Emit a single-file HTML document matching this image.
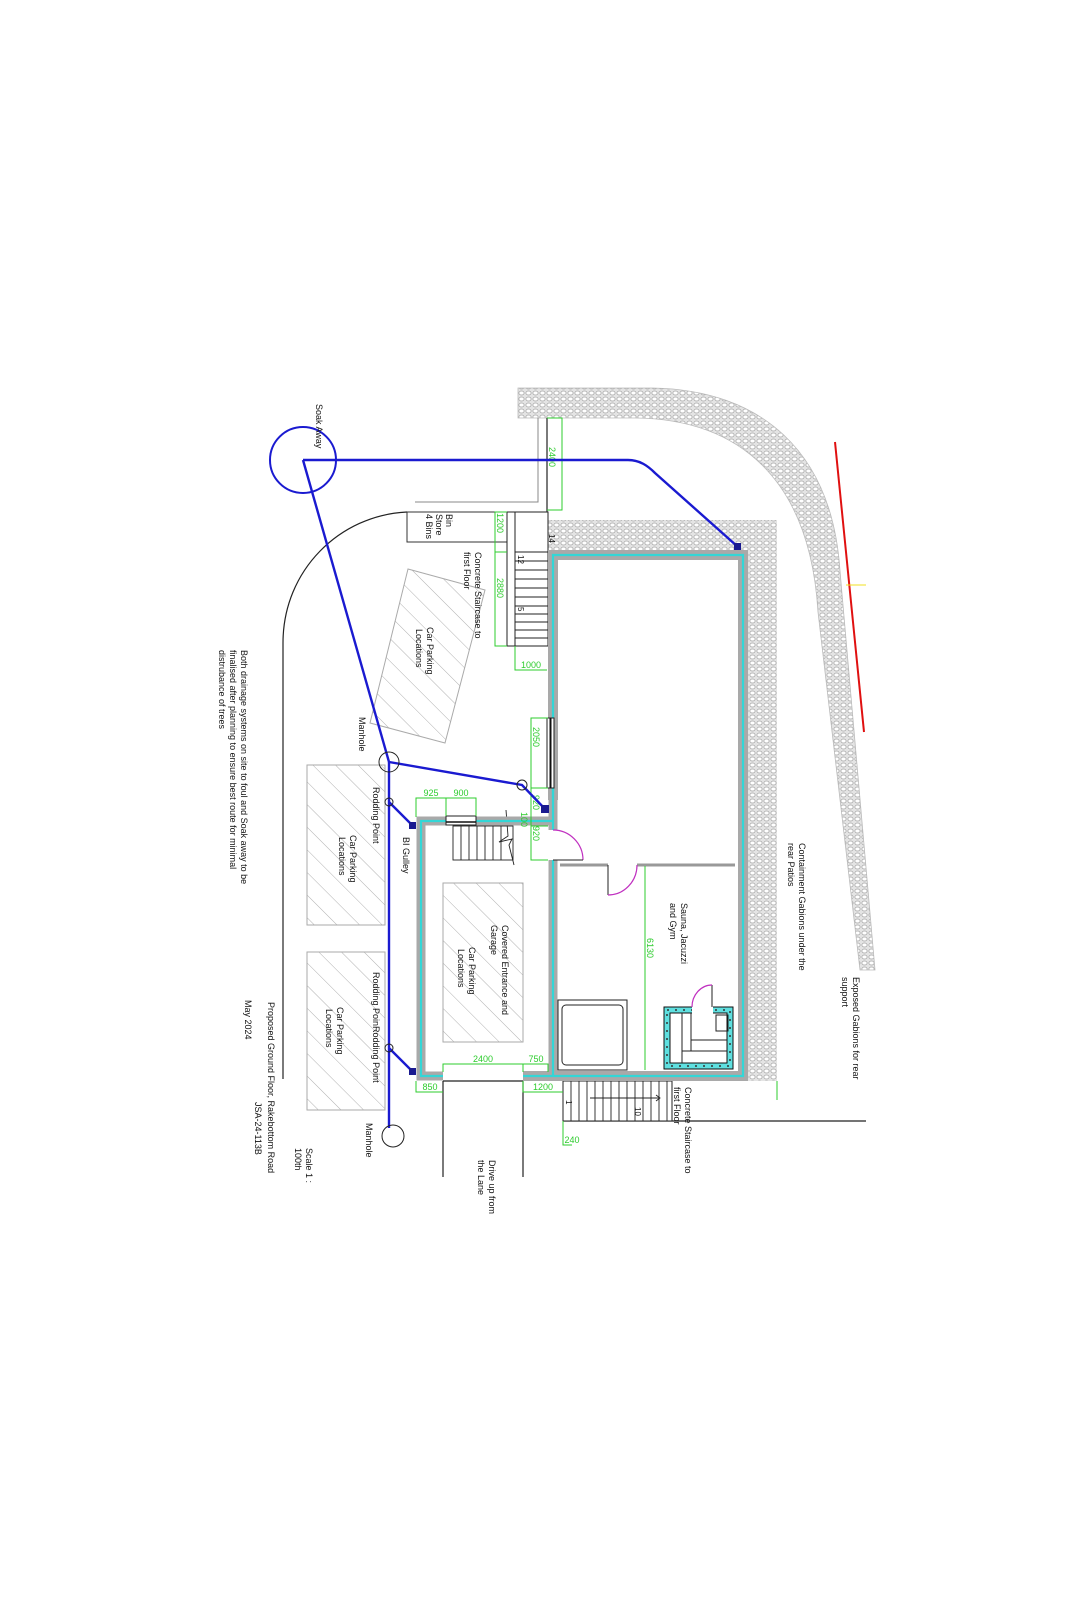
<!DOCTYPE html>
<html><head><meta charset="utf-8"><style>
html,body{margin:0;padding:0;background:#fff;}
svg{display:block;}
text{font-family:"Liberation Sans",sans-serif;font-size:9px;fill:#111;}
.g{fill:#2ecc2e;font-size:9px;}
</style></head><body>
<svg width="1090" height="1600" viewBox="0 0 1090 1600" xmlns="http://www.w3.org/2000/svg">
<defs>
<pattern id="mesh" width="7" height="6" patternUnits="userSpaceOnUse">
<rect width="7" height="6" fill="#e4e4e4"/>
<ellipse cx="3.5" cy="3" rx="2.6" ry="2" fill="#fff" stroke="#a8a8a8" stroke-width="0.8"/>
</pattern>
<pattern id="hatch" width="16" height="16" patternUnits="userSpaceOnUse" patternTransform="rotate(-45)">
<line x1="0" y1="0" x2="0" y2="16" stroke="#b0b0b0" stroke-width="1"/>
</pattern>
</defs>
<rect width="1090" height="1600" fill="#fff"/>

<path d="M518,388 H653 C760,390 832,450 840,571 L875,970 L860,970 L818,612 C810,480 740,418 632,418 H518 Z" fill="url(#mesh)" stroke="#bbb" stroke-width="0.8"/>
<rect x="547" y="520" width="230" height="30" fill="url(#mesh)"/>
<rect x="748" y="520" width="29" height="561" fill="url(#mesh)"/>
<line x1="777" y1="1081" x2="777" y2="1100" stroke="#2ecc2e" stroke-width="1"/>

<line x1="835" y1="442" x2="864" y2="732" stroke="#e01010" stroke-width="2"/>
<line x1="846" y1="585" x2="866" y2="585" stroke="#f0e020" stroke-width="1"/>

<path d="M407,512 C340,515 283,570 283,643 V1079" fill="none" stroke="#222" stroke-width="1.2"/>
<polyline points="415,502 538,502 538,418" fill="none" stroke="#888" stroke-width="1"/>
<line x1="547" y1="418" x2="547" y2="552" stroke="#222" stroke-width="1.2"/>
<line x1="563" y1="1121" x2="866" y2="1121" stroke="#222" stroke-width="1.2"/>
<line x1="443" y1="1081" x2="443" y2="1177" stroke="#222" stroke-width="1.2"/>
<line x1="523" y1="1081" x2="523" y2="1177" stroke="#222" stroke-width="1.2"/>
<line x1="443" y1="1081" x2="523" y2="1081" stroke="#222" stroke-width="1.2"/>

<rect x="407" y="512" width="100" height="30" fill="none" stroke="#333" stroke-width="1"/>

<polygon points="408,569 485,590 445,743 370,723" fill="url(#hatch)" stroke="#aaa" stroke-width="1"/>
<rect x="307" y="765" width="78" height="160" fill="url(#hatch)" stroke="#aaa" stroke-width="1"/>
<rect x="307" y="952" width="78" height="158" fill="url(#hatch)" stroke="#aaa" stroke-width="1"/>
<rect x="443" y="883" width="80" height="159" fill="url(#hatch)" stroke="#aaa" stroke-width="1"/>

<rect x="507" y="512" width="41" height="134" fill="#fff" stroke="#222" stroke-width="1"/>
<line x1="515" y1="512" x2="515" y2="646" stroke="#222" stroke-width="1"/>
<g stroke="#222" stroke-width="0.9">
<line x1="515" y1="552" x2="548" y2="552"/><line x1="515" y1="561" x2="548" y2="561"/>
<line x1="515" y1="570" x2="548" y2="570"/><line x1="515" y1="579" x2="548" y2="579"/>
<line x1="515" y1="588" x2="548" y2="588"/><line x1="515" y1="597" x2="548" y2="597"/>
<line x1="515" y1="606" x2="548" y2="606"/><line x1="515" y1="614" x2="548" y2="614"/>
<line x1="515" y1="622" x2="548" y2="622"/><line x1="515" y1="630" x2="548" y2="630"/>
<line x1="515" y1="638" x2="548" y2="638"/>
</g>

<rect x="563" y="1081" width="109" height="40" fill="#fff" stroke="#222" stroke-width="1"/>
<g stroke="#222" stroke-width="0.9">
<line x1="571" y1="1081" x2="571" y2="1121"/><line x1="579" y1="1081" x2="579" y2="1121"/>
<line x1="587" y1="1081" x2="587" y2="1121"/><line x1="595" y1="1081" x2="595" y2="1121"/>
<line x1="603" y1="1081" x2="603" y2="1121"/><line x1="611" y1="1081" x2="611" y2="1121"/>
<line x1="619" y1="1081" x2="619" y2="1121"/><line x1="627" y1="1081" x2="627" y2="1121"/>
<line x1="635" y1="1081" x2="635" y2="1121"/><line x1="643" y1="1081" x2="643" y2="1121"/>
<line x1="651" y1="1081" x2="651" y2="1121"/><line x1="659" y1="1081" x2="659" y2="1121"/>
<line x1="667" y1="1081" x2="667" y2="1121"/>
<line x1="590" y1="1098" x2="660" y2="1098"/>
<polyline points="656,1095 660,1098 656,1101" fill="none"/>
</g>

<g stroke="#222" stroke-width="0.9" fill="none">
<rect x="453" y="826" width="60" height="34"/>
<line x1="461" y1="826" x2="461" y2="860"/><line x1="469" y1="826" x2="469" y2="860"/>
<line x1="477" y1="826" x2="477" y2="860"/><line x1="485" y1="826" x2="485" y2="860"/>
<line x1="493" y1="826" x2="493" y2="860"/><line x1="501" y1="826" x2="501" y2="860"/>
<polyline points="506,810 508,836 499,842 512,839 509,845 514,865"/>
</g>

<g fill="none" stroke-linejoin="miter">
<path d="M553,800 V555 H743 V1076 H523" stroke="#a9a9a9" stroke-width="10"/>
<path d="M553,830 V800" stroke="#a9a9a9" stroke-width="9"/>
<path d="M553,860 V1076" stroke="#a9a9a9" stroke-width="9"/>
<path d="M557,821 H421 V1076 H443" stroke="#a9a9a9" stroke-width="9"/>
<path d="M553,800 V555 H743 V1076 H523" stroke="#33d6d6" stroke-width="2.2"/>
<path d="M553,787 V830" stroke="#33d6d6" stroke-width="2.2"/>
<path d="M553,860 V1076" stroke="#33d6d6" stroke-width="2.2"/>
<path d="M553,821 H421 V1076 H443" stroke="#33d6d6" stroke-width="2.2"/>
<line x1="560" y1="865" x2="608" y2="865" stroke="#999" stroke-width="3"/>
<line x1="637" y1="865" x2="735" y2="865" stroke="#999" stroke-width="3"/>
</g>
<rect x="547" y="718" width="7" height="70" fill="#fff" stroke="#222" stroke-width="1"/>
<line x1="550.5" y1="718" x2="550.5" y2="788" stroke="#111" stroke-width="2"/>
<rect x="446" y="816" width="30" height="9" fill="#fff" stroke="#222" stroke-width="1"/>
<line x1="446" y1="822" x2="476" y2="822" stroke="#111" stroke-width="1.5"/>

<path d="M553,830 A30,30 0 0 1 583,860" fill="none" stroke="#c030c0" stroke-width="1.2"/>
<line x1="553" y1="860" x2="583" y2="860" stroke="#222" stroke-width="1"/>
<line x1="608" y1="865" x2="608" y2="895" stroke="#222" stroke-width="1"/>
<path d="M608,895 A29,30 0 0 0 637,865" fill="none" stroke="#c030c0" stroke-width="1.2"/>

<rect x="558" y="1000" width="69" height="70" fill="#fff" stroke="#222" stroke-width="1"/>
<rect x="562" y="1005" width="61" height="60" rx="4" fill="none" stroke="#222" stroke-width="1"/>

<!-- sauna -->
<rect x="667" y="1010" width="63" height="56" fill="none" stroke="#5fe0e0" stroke-width="5"/>
<rect x="667" y="1010" width="63" height="56" fill="none" stroke="#333" stroke-width="1.5" stroke-dasharray="2 6"/>
<rect x="664" y="1007" width="69" height="62" fill="none" stroke="#111" stroke-width="1"/>
<rect x="670" y="1013" width="57" height="50" fill="#fff" stroke="#111" stroke-width="1"/>
<rect x="692" y="1005" width="21" height="9" fill="#fff"/>
<g stroke="#222" stroke-width="1" fill="none">
<line x1="682" y1="1013" x2="682" y2="1063"/>
<line x1="691" y1="1013" x2="691" y2="1051"/>
<line x1="691" y1="1040" x2="727" y2="1040"/>
<line x1="682" y1="1051" x2="727" y2="1051"/>
<rect x="716" y="1015" width="12" height="16"/>
<line x1="712" y1="985" x2="712" y2="1007"/>
</g>
<path d="M692,1007 A20,22 0 0 1 712,985" fill="none" stroke="#c030c0" stroke-width="1.2"/>

<g stroke="#2ecc2e" stroke-width="1" fill="none">
<polyline points="547,418 562,418 562,510 547,510"/>
<polyline points="507,512 495,512 495,646 507,646"/><line x1="495" y1="552" x2="507" y2="552"/>
<polyline points="515,646 515,670 547,670"/>
<polyline points="548,718 531,718 531,860 548,860"/>
<line x1="531" y1="788" x2="548" y2="788"/><line x1="531" y1="826" x2="548" y2="826"/>
<polyline points="416,817 416,798 476,798 476,816"/><line x1="446" y1="798" x2="446" y2="816"/>
<polyline points="443,1072 443,1064 548,1064 548,1072"/><line x1="523" y1="1064" x2="523" y2="1072"/>
<polyline points="416,1081 416,1092 443,1092"/>
<polyline points="523,1081 523,1092 563,1092"/>
<polyline points="563,1121 563,1145 572,1145"/>
<line x1="645" y1="866" x2="645" y2="1070"/>
</g>
<text class="g" x="431" y="796" text-anchor="middle">925</text>
<text class="g" x="461" y="796" text-anchor="middle">900</text>
<text class="g" x="483" y="1062" text-anchor="middle">2400</text>
<text class="g" x="536" y="1062" text-anchor="middle">750</text>
<text class="g" x="430" y="1090" text-anchor="middle">850</text>
<text class="g" x="543" y="1090" text-anchor="middle">1200</text>
<text class="g" x="572" y="1143" text-anchor="middle">240</text>
<text class="g" x="531" y="668" text-anchor="middle">1000</text>
<text class="g" transform="translate(549,447) rotate(90)">2400</text>
<text class="g" transform="translate(497,513) rotate(90)">1200</text>
<text class="g" transform="translate(497,578) rotate(90)">2880</text>
<text class="g" transform="translate(533,727) rotate(90)">2050</text>
<text class="g" transform="translate(533,795) rotate(90)">920</text>
<text class="g" transform="translate(521,812) rotate(90)">100</text>
<text class="g" transform="translate(533,826) rotate(90)">920</text>
<text class="g" transform="translate(647,938) rotate(90)">6130</text>

<g stroke="#1a1ad0" stroke-width="2.4" fill="none">
<circle cx="303" cy="460" r="33" stroke-width="2"/>
<path d="M303,460 H628 C640,460 648,466 655,473 L738,547"/>
<line x1="303" y1="460" x2="389" y2="762"/>
<polyline points="389,762 522,785 545,809"/>
<polyline points="389,762 389,1128 Q389,1140 401,1140 H470"/>
<line x1="389" y1="802" x2="413" y2="826"/>
<line x1="389" y1="1048" x2="413" y2="1072"/>
</g>
<g fill="#1a1a90">
<rect x="734" y="543" width="7" height="7"/>
<rect x="541" y="805" width="8" height="8"/>
<rect x="409" y="822" width="7" height="7"/>
<rect x="409" y="1068" width="7" height="7"/>
</g>
<g fill="none" stroke="#222" stroke-width="1">
<circle cx="389" cy="762" r="10"/>
<circle cx="522" cy="785" r="5"/>
<circle cx="389" cy="802" r="4"/>
<circle cx="389" cy="1048" r="4"/>
<circle cx="393" cy="1136" r="11"/>
</g>

<text transform="translate(316,404) rotate(90)">Soak Away</text>
<text transform="translate(446,514) rotate(90)">Bin</text>
<text transform="translate(436,514) rotate(90)">Store</text>
<text transform="translate(426,514) rotate(90)">4 Bins</text>
<text transform="translate(475,552) rotate(90)">Concrete Staircase to</text>
<text transform="translate(464,552) rotate(90)">first Floor</text>
<text transform="translate(427,627) rotate(90)">Car Parking</text>
<text transform="translate(416,629) rotate(90)">Locations</text>
<text transform="translate(359,717) rotate(90)">Manhole</text>
<text transform="translate(373,787) rotate(90)">Rodding Point</text>
<text transform="translate(403,837) rotate(90)">BI Gulley</text>
<text transform="translate(350,835) rotate(90)">Car Parking</text>
<text transform="translate(339,837) rotate(90)">Locations</text>
<text transform="translate(373,972) rotate(90)">Rodding PoinRodding Point</text>
<text transform="translate(337,1007) rotate(90)">Car Parking</text>
<text transform="translate(326,1009) rotate(90)">Locations</text>
<text transform="translate(366,1123) rotate(90)">Manhole</text>
<text transform="translate(502,925) rotate(90)">Covered Entrance and</text>
<text transform="translate(491,925) rotate(90)">Garage</text>
<text transform="translate(469,947) rotate(90)">Car Parking</text>
<text transform="translate(458,949) rotate(90)">Locations</text>
<text transform="translate(681,903) rotate(90)">Sauna, Jacuzzi</text>
<text transform="translate(670,903) rotate(90)">and Gym</text>
<text transform="translate(685,1087) rotate(90)">Concrete Staircase to</text>
<text transform="translate(674,1087) rotate(90)">first Floor</text>
<text transform="translate(489,1160) rotate(90)">Drive up from</text>
<text transform="translate(478,1160) rotate(90)">the Lane</text>
<text transform="translate(306,1148) rotate(90)">Scale 1 :</text>
<text transform="translate(295,1148) rotate(90)">100th</text>
<text transform="translate(268,1002) rotate(90)">Proposed Ground Floor, Rakebottom Road</text>
<text transform="translate(255,1102) rotate(90)">JSA-24-113B</text>
<text transform="translate(245,1000) rotate(90)">May 2024</text>
<text transform="translate(241,650) rotate(90)">Both drainage systems on site to foul and Soak away to be</text>
<text transform="translate(230,650) rotate(90)">finalised after planning to ensure best route for minimal</text>
<text transform="translate(219,650) rotate(90)">distrubance of trees</text>
<text transform="translate(799,843) rotate(90)">Containment Gabions under the</text>
<text transform="translate(788,843) rotate(90)">rear Patios</text>
<text transform="translate(853,977) rotate(90)">Exposed Gabions for rear</text>
<text transform="translate(842,977) rotate(90)">support</text>
<text transform="translate(518,555) rotate(90)" style="font-size:8px">12</text>
<text transform="translate(518,607) rotate(90)" style="font-size:8px">5</text>
<text transform="translate(549,534) rotate(90)" style="font-size:8px">14</text>
<text transform="translate(566,1100) rotate(90)" style="font-size:8px">1</text>
<text transform="translate(635,1107) rotate(90)" style="font-size:8px">10</text>
</svg>
</body></html>
